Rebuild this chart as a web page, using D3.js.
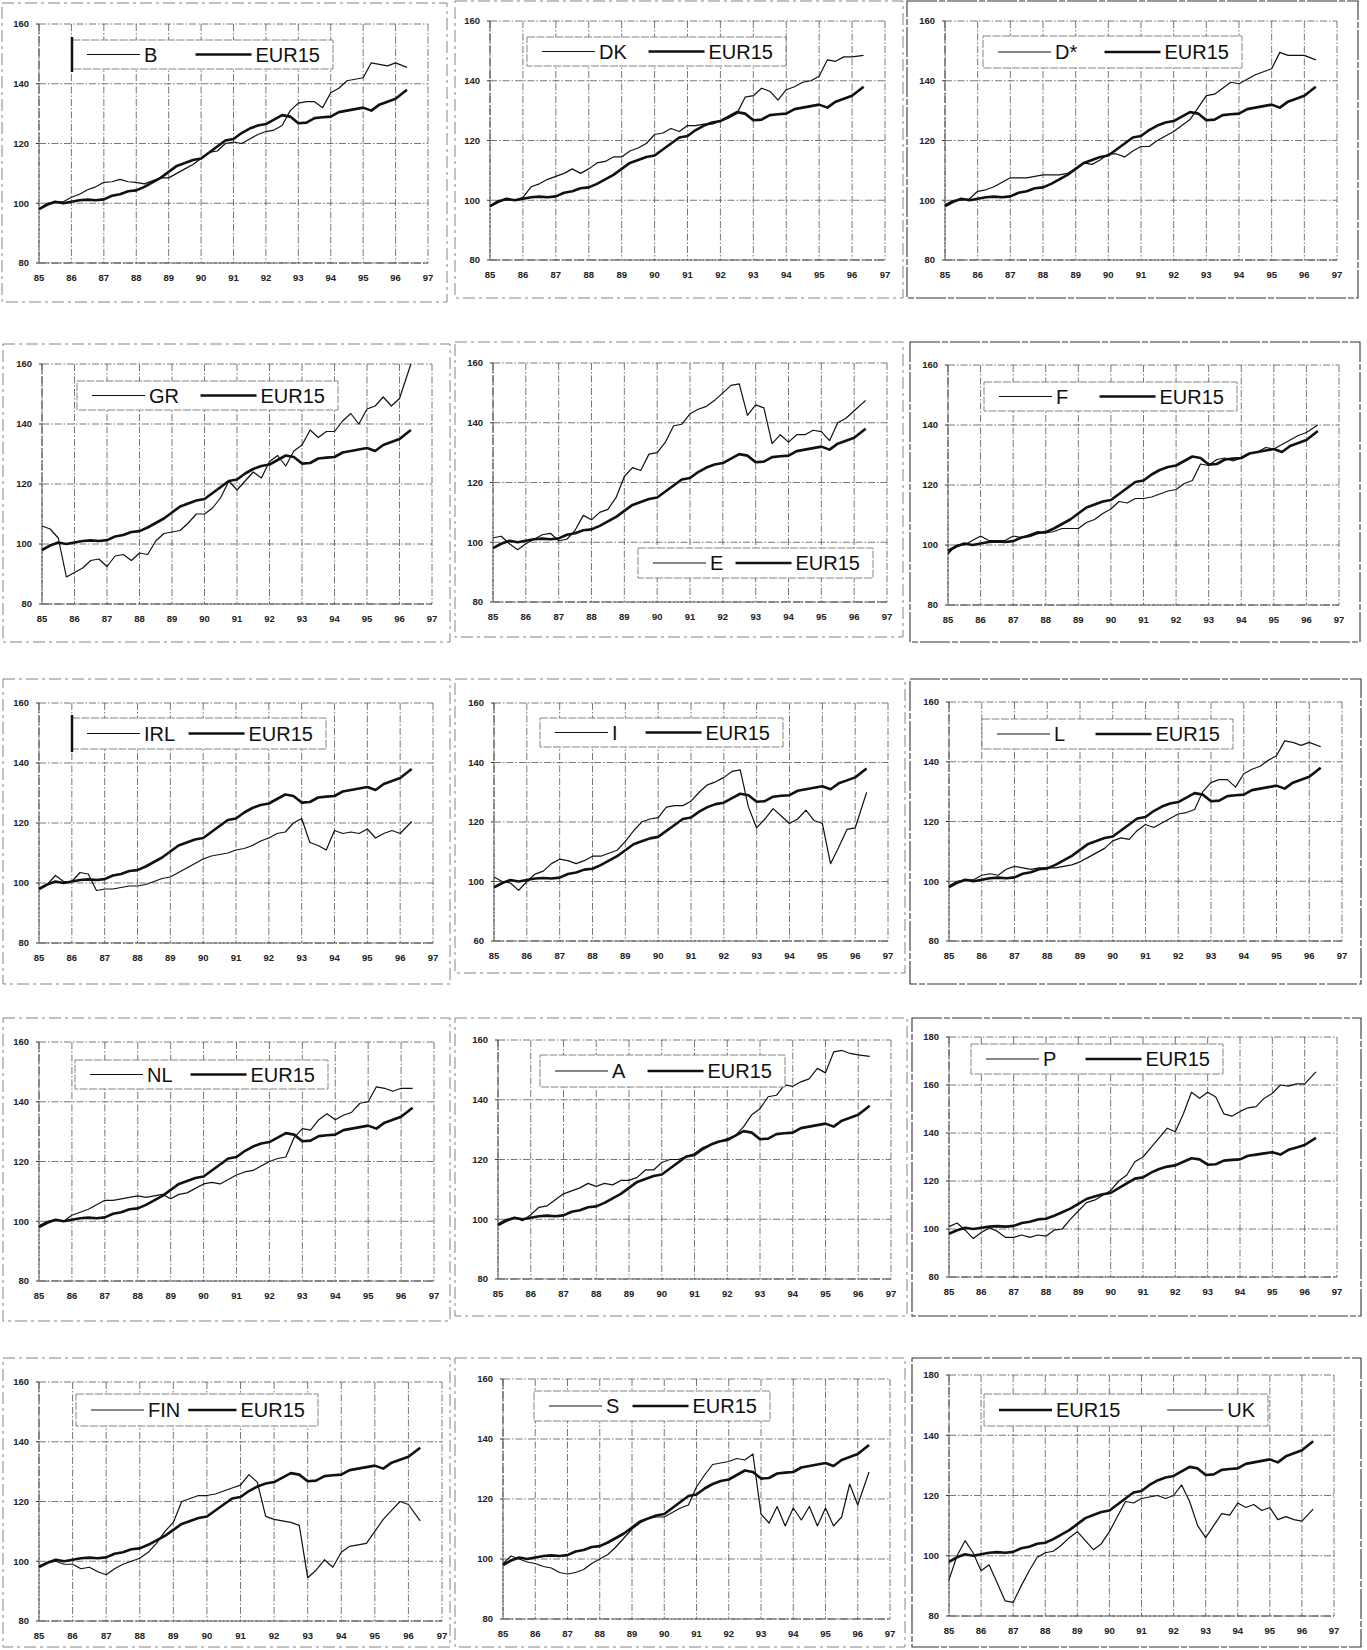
<!DOCTYPE html>
<html><head><meta charset="utf-8">
<script src="https://cdn.jsdelivr.net/npm/d3@7"></script>
<style>body{margin:0;background:#fff}svg{display:block}</style>
</head><body>
<svg id="c" width="1367" height="1650"></svg>
<script>
// ---------- DATA ----------
const years = [85, 85.25, 85.5, 85.75, 86, 86.25, 86.5, 86.75, 87, 87.25, 87.5, 87.75, 88, 88.25, 88.5, 88.75,
  89, 89.25, 89.5, 89.75, 90, 90.25, 90.5, 90.75, 91, 91.25, 91.5, 91.75, 92, 92.25, 92.5, 92.75,
  93, 93.25, 93.5, 93.75, 94, 94.25, 94.5, 94.75, 95, 95.25, 95.5, 95.75, 96, 96.35];
const xTickLabels = ["85","86","87","88","89","90","91","92","93","94","95","96","97"];
const yLabels   = ["80","100","120","140","160"];
const yLabelsI  = ["60","100","120","140","160"];
const yLabelsP  = ["80","100","120","140","160","180"];
const yLabelsUK = ["80","100","120","140","180"];

const eur15 = [98, 99.5, 100.5, 100, 100.5, 101, 101.2, 101, 101.3, 102.5, 103, 104, 104.3, 105.5, 107, 108.5,
  110.5, 112.5, 113.5, 114.5, 115, 117, 119, 121, 121.5, 123.5, 125, 126, 126.5, 128, 129.5, 129,
  126.8, 127, 128.5, 128.8, 129, 130.5, 131, 131.5, 132, 131, 133, 134, 135, 138];
const valB = [98, 100, 100.5, 100.5, 102, 103, 104.5, 105.5, 107, 107.2, 108, 107.2, 107, 106.5, 107.5, 108.5,
  108.5, 110, 111.5, 113, 115, 117, 117.5, 120, 120.5, 120, 121.5, 123, 124, 124.5, 126, 131,
  133.5, 134, 134, 132, 137, 138.5, 141, 141.5, 142, 147, 146.5, 146, 147, 145.5];
const valDK = [98, 100, 100, 100, 101, 104.5, 105.5, 107, 108, 109, 110.5, 109, 110.5, 112.5, 113, 114.5,
  114.5, 116.5, 117.5, 119, 122, 122.5, 124, 123, 125, 125, 125.5, 125.5, 126.5, 127.5, 129, 134.5,
  135, 137.5, 136.5, 133.5, 137, 138, 139.5, 140, 141.5, 147, 146.5, 148, 148, 148.5];
const valD = [98.5, 100, 100, 100.5, 103, 103.5, 104.5, 106, 107.5, 107.5, 107.5, 108, 108.5, 108.5, 108.5, 109,
  110.5, 112.5, 112, 113.5, 115.5, 115.5, 114.5, 116.5, 118, 118, 120, 121.5, 123, 125, 127, 131,
  135, 135.5, 137.5, 139.5, 139, 140.5, 142, 143, 144, 149.5, 148.5, 148.5, 148.5, 147];
const valGR = [106, 105, 102, 89, 90.5, 92, 94.5, 95, 92.5, 96, 96.5, 94.5, 97, 96.5, 101, 103.5,
  104, 104.5, 107, 110, 110, 112, 115.5, 121, 118, 121, 124, 122, 127.5, 129.5, 126, 131,
  133, 138, 135.5, 137.5, 137.5, 141, 143.5, 140, 145, 146, 149, 146, 148.5, 160];
const valE = [101.5, 102, 99.5, 97.5, 99.5, 101, 102.5, 103, 100.5, 101, 104, 109, 107.5, 110, 111, 115,
  122, 125, 124, 129.5, 130, 133.5, 139, 139.5, 143, 144.5, 145.5, 147.5, 150, 152.5, 153, 142.5,
  146, 145, 133, 136, 133.5, 136, 136, 137.5, 137, 134, 140, 141.5, 144, 147.5];
const valF = [97, 100, 100, 101.5, 103, 101.5, 101.5, 101.5, 103, 102.5, 103.5, 104.5, 104, 104.5, 105.5, 105.5,
  105.5, 107.5, 108.5, 110.5, 112, 114.5, 114, 115.5, 115.5, 116, 117, 118, 118.5, 120.5, 121.5, 127,
  126.5, 128.5, 129, 128, 129, 130.5, 131, 132.5, 132, 133.5, 135, 136.5, 137.5, 140];
const valIRL = [98, 99.5, 102.5, 100.5, 100.5, 103.5, 103, 97.5, 98, 98, 98.5, 99, 99, 99.5, 100.5, 101.5,
  102, 103.5, 105, 106.5, 108, 109, 109.5, 110, 111, 111.5, 112.5, 114, 115, 116.5, 117, 120,
  121.5, 113.5, 112.5, 111, 117.5, 116.5, 117, 116.5, 118, 115, 116.5, 117.5, 116.5, 120.5];
const valI = [101.5, 100, 99.5, 97, 100, 102.5, 103.5, 106, 107.5, 107, 106, 107, 108.5, 108.5, 109.5, 110.5,
  113.5, 117, 120, 121, 121.5, 125, 125.5, 125.5, 127, 130, 132.5, 133.5, 135, 137, 137.5, 125,
  118, 121, 124.5, 122, 119.5, 121, 124, 120.5, 119.5, 106, 111.5, 117.5, 118, 130];
const valL = [98.5, 100, 100.5, 100.5, 102, 102.5, 102, 104, 105, 104.5, 104, 104.5, 104.5, 104.5, 105, 105.5,
  106.5, 108, 109.5, 111, 113.5, 114.5, 114, 117, 119, 118, 119.5, 121, 122.5, 123, 124, 130,
  133, 134, 134, 131.5, 136, 137.5, 138.5, 140.5, 142, 147, 146.5, 145.5, 146.5, 145];
const valNL = [98.5, 100, 100.5, 100, 102, 103, 104, 105.5, 107, 107, 107.5, 108, 108.5, 108, 108.5, 109,
  107.5, 109, 109.5, 111, 112.5, 113, 112.5, 114, 115.5, 116.5, 117, 118.5, 120, 121, 121.5, 128,
  131, 130.5, 134, 136, 134, 135.5, 136.5, 139.5, 140, 145, 144.5, 143.5, 144.5, 144.5];
const valA = [98.5, 100, 100.5, 99.5, 101.5, 104, 104.5, 106.5, 108.5, 109.5, 110.5, 112, 111, 112, 111.5, 113,
  113, 114, 116.5, 116.5, 119, 120, 120, 121, 122, 124, 125, 126, 127, 128, 131, 135,
  137, 141, 141.5, 145, 144.5, 146, 147, 150.5, 149, 156, 156.5, 155.5, 155, 154.5];
const valP = [101, 102.5, 99.5, 96, 98.5, 100.5, 99, 96.5, 96.5, 97.5, 96.5, 97.5, 97, 99.5, 100, 104,
  107.5, 111, 112, 114, 116, 120, 122.5, 128, 130, 134, 138, 142, 140.5, 148, 157, 154.5,
  157, 155, 148, 147, 149, 150.5, 151, 154.5, 156.5, 160, 159.5, 160.5, 160.5, 165.5];
const valFIN = [98.5, 99.5, 100, 99, 99, 97.5, 98, 96.5, 95.5, 97.5, 99, 100, 101, 103, 106, 110,
  113, 120, 121, 122, 122, 122.5, 123.5, 124.5, 125.5, 129, 126.5, 115, 114, 113.5, 113, 112,
  94.5, 97, 100.5, 98, 103, 105, 105.5, 106, 110, 114, 117, 120, 119, 113.5];
const valS = [98.5, 101, 100, 99, 98.5, 97.5, 97, 95.5, 95, 95.5, 96.5, 98.5, 100, 101.5, 104, 107,
  110, 112, 113.5, 114, 114, 115.5, 117, 118, 124, 128, 131.5, 132, 132.5, 133.5, 133, 135,
  115, 112, 117.5, 111, 117, 113, 117.5, 111, 117, 111, 114, 125, 118, 129];
const valUK = [92, 100, 105, 101, 95, 97, 91, 85, 84.5, 90, 95, 99.5, 101, 101.5, 103.5, 106,
  108, 105, 102, 104, 108, 113, 118, 117.5, 119, 119.5, 120, 119, 120, 123.5, 118, 110,
  106, 110, 114, 113.5, 117.5, 116, 117, 115, 116, 112, 113, 112, 111.5, 115.5];

// ---------- LAYOUT (positions only) ----------
const panels = [
  {name:"B",   vals:valB,   yMax:160, yLab:yLabels,   plot:[39,24,428,263],     frame:[2,3,447,302],      legend:[72,40,333,69], bar:true},
  {name:"DK",  vals:valDK,  yMax:160, yLab:yLabels,   plot:[490,21,885,260],    frame:[455,1,903,298],    legend:[527,37,786,66]},
  {name:"D*",  vals:valD,   yMax:160, yLab:yLabels,   plot:[945,21,1337,260],   frame:[907,1,1358,298],   legend:[983,36,1242,68], solid:true},
  {name:"GR",  vals:valGR,  yMax:160, yLab:yLabels,   plot:[42,364,432,604],    frame:[3,344,450,642],    legend:[77,381,338,410]},
  {name:"E",   vals:valE,   yMax:160, yLab:yLabels,   plot:[493,363,887,602],   frame:[455,342,903,637],  legend:[638,548,873,578]},
  {name:"F",   vals:valF,   yMax:160, yLab:yLabels,   plot:[948,365,1339,605],  frame:[910,342,1360,642], legend:[984,382,1237,411], solid:true},
  {name:"IRL", vals:valIRL, yMax:160, yLab:yLabels,   plot:[39,703,433,943],    frame:[3,679,450,984],    legend:[72,718,326,749], bar:true},
  {name:"I",   vals:valI,   yMax:160, yLab:yLabelsI,  plot:[494,703,888,941],   frame:[455,679,905,973],  legend:[540,718,783,747]},
  {name:"L",   vals:valL,   yMax:160, yLab:yLabels,   plot:[949,702,1342,941],  frame:[910,679,1361,984], legend:[982,719,1233,749], solid:true},
  {name:"NL",  vals:valNL,  yMax:160, yLab:yLabels,   plot:[39,1042,434,1281],  frame:[3,1018,450,1321], legend:[75,1060,328,1089]},
  {name:"A",   vals:valA,   yMax:160, yLab:yLabels,   plot:[498,1040,891,1279], frame:[455,1018,907,1316], legend:[540,1055,785,1087]},
  {name:"P",   vals:valP,   yMax:180, yLab:yLabelsP,  plot:[949,1037,1337,1277],frame:[912,1018,1361,1316], legend:[971,1044,1223,1074], solid:true},
  {name:"FIN", vals:valFIN, yMax:160, yLab:yLabels,   plot:[39,1382,442,1621],  frame:[3,1358,450,1647], legend:[76,1394,318,1426]},
  {name:"S",   vals:valS,   yMax:160, yLab:yLabels,   plot:[503,1379,890,1619], frame:[455,1358,905,1647], legend:[534,1391,770,1421]},
  {name:"UK",  vals:valUK,  yMax:160, yLab:yLabelsUK, plot:[949,1375,1334,1616],frame:[912,1358,1361,1647], legend:[984,1394,1268,1426], solid:true, eurFirst:true}
];

// ---------- DRAW ----------
const svg = d3.select("#c");
const FONT = "'Liberation Sans', Arial, sans-serif";

panels.forEach(p => {
  const [x0,y0,x1,y1] = p.plot;
  const g = svg.append("g");
  const x = d3.scaleLinear().domain([85,97]).range([x0,x1]);
  const y = d3.scaleLinear().domain([80,p.yMax]).range([y1,y0]);
  const yTicks = d3.range(80, p.yMax + 1, 20);

  // outer frame
  const [fx0,fy0,fx1,fy1] = p.frame;
  g.append("rect").attr("x",fx0).attr("y",fy0).attr("width",fx1-fx0).attr("height",fy1-fy0)
    .attr("fill","none").attr("stroke", p.solid ? "#333" : "#777").attr("stroke-width", p.solid ? 1.1 : 0.9)
    .attr("stroke-dasharray", p.solid ? "30,2,6,2" : "12,4,3,4");

  // grid
  const gridStyle = s => s.attr("stroke","#555").attr("stroke-width",0.8).attr("stroke-dasharray","7,2,1.5,2");
  g.append("g").selectAll("line").data(d3.range(85,98)).join("line")
    .attr("x1",d=>x(d)).attr("x2",d=>x(d)).attr("y1",y0).attr("y2",y1).call(gridStyle);
  g.append("g").selectAll("line").data(yTicks).join("line")
    .attr("x1",x0).attr("x2",x1).attr("y1",d=>y(d)).attr("y2",d=>y(d)).call(gridStyle);
  g.append("line").attr("x1",x0).attr("x2",x0).attr("y1",y0).attr("y2",y1).attr("stroke","#444").attr("stroke-width",0.9).attr("stroke-dasharray","10,2");
  g.append("line").attr("x1",x0).attr("x2",x1).attr("y1",y1).attr("y2",y1).attr("stroke","#444").attr("stroke-width",0.9).attr("stroke-dasharray","10,2");
  g.append("g").selectAll("line").data(yTicks).join("line")
    .attr("x1",x0-3).attr("x2",x0).attr("y1",d=>y(d)).attr("y2",d=>y(d)).attr("stroke","#333").attr("stroke-width",1);

  // tick labels
  g.append("g").selectAll("text").data(yTicks).join("text")
    .attr("x",x0-10).attr("y",d=>y(d)).attr("dy","0.35em").attr("text-anchor","end")
    .attr("font-family",FONT).attr("font-size",9.5).attr("font-weight","bold").attr("fill","#222")
    .text((d,i)=>p.yLab[i]);
  g.append("g").selectAll("text").data(xTickLabels).join("text")
    .attr("x",(d,i)=>x(85+i)).attr("y",y1+18).attr("text-anchor","middle")
    .attr("font-family",FONT).attr("font-size",9.5).attr("font-weight","bold").attr("fill","#222")
    .text(d=>d);

  // lines
  const line = d3.line().x((d,i)=>x(years[i])).y(d=>y(d));
  g.append("path").attr("d",line(eur15)).attr("fill","none").attr("stroke","#111")
    .attr("stroke-width",2.6).attr("stroke-linejoin","round");
  g.append("path").attr("d",line(p.vals)).attr("fill","none").attr("stroke","#111")
    .attr("stroke-width",1.2).attr("stroke-linejoin","round");

  // legend
  const [lx0,ly0,lx1,ly1] = p.legend;
  const lg = g.append("g");
  lg.append("rect").attr("x",lx0).attr("y",ly0).attr("width",lx1-lx0).attr("height",ly1-ly0)
    .attr("fill","#fff").attr("stroke","#777").attr("stroke-width",0.9).attr("stroke-dasharray","8,1.5");
  if (p.bar) lg.append("line").attr("x1",lx0).attr("x2",lx0).attr("y1",ly0-3).attr("y2",ly1+3)
    .attr("stroke","#111").attr("stroke-width",2.5);
  const cy = (ly0+ly1)/2;
  const items = p.eurFirst ? [{t:"EUR15",w:2.6},{t:p.name,w:1.2}] : [{t:p.name,w:1.2},{t:"EUR15",w:2.6}];
  lg.append("line").attr("x1",lx0+15).attr("x2",lx0+68).attr("y1",cy).attr("y2",cy)
    .attr("stroke","#111").attr("stroke-width",items[0].w);
  const t1 = lg.append("text").attr("x",lx0+72).attr("y",cy+7).attr("font-family",FONT).attr("font-size",20)
    .attr("fill","#111").text(items[0].t);
  const t1End = lx0 + 72 + t1.node().getComputedTextLength();
  const t2 = lg.append("text").attr("y",cy+7).attr("font-family",FONT).attr("font-size",20)
    .attr("fill","#111").text(items[1].t);
  const w2 = t2.node().getComputedTextLength();
  const tx = lx1 - 13 - w2;
  t2.attr("x",tx);
  const l2start = Math.max(tx - 60, t1End + 8);
  lg.append("line").attr("x1",l2start).attr("x2",tx-4).attr("y1",cy).attr("y2",cy)
    .attr("stroke","#111").attr("stroke-width",items[1].w);
});
</script>
</body></html>
